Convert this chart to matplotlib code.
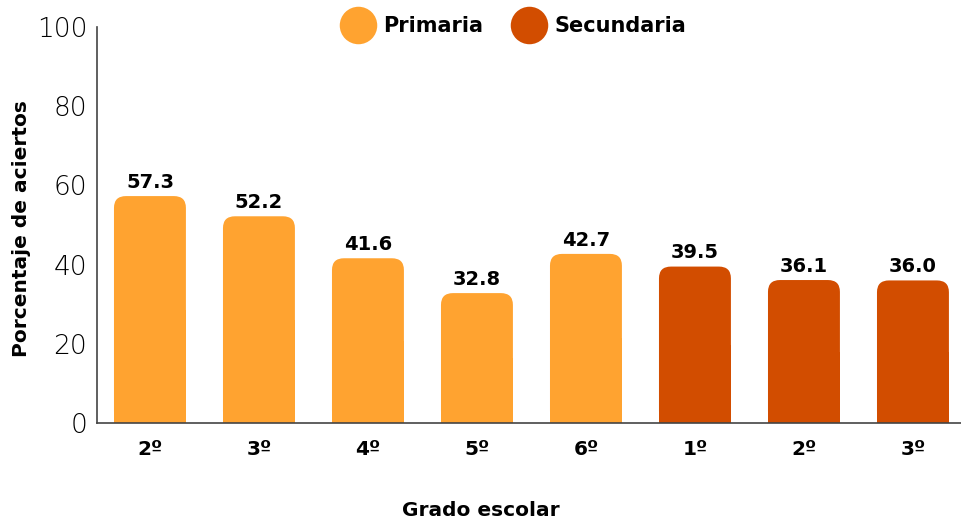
import matplotlib.pyplot as plt
from matplotlib.patches import FancyBboxPatch
from matplotlib.lines import Line2D

grades = ["2º", "3º", "4º", "5º", "6º", "1º", "2º", "3º"]
levels = ["Primaria"] * 5 + ["Secundaria"] * 3
scores = [57.3, 52.2, 41.6, 32.8, 42.7, 39.5, 36.1, 36.0]
level_colors = {"Primaria": "#FFA330", "Secundaria": "#D24D00"}

plt.rcParams["font.family"] = ["DejaVu Sans"]

fig = plt.figure(figsize=(9.62, 5.25), dpi=100)
ax = fig.add_axes([0.1008, 0.1943, 0.8992, 0.7543])

x = list(range(len(grades)))
colors = [level_colors[lv] for lv in levels]
bars = ax.bar(x, scores, width=0.66, color=colors, linewidth=0)

# rounded tops: rounded box over the bar, square lower half kept from the bar itself
r_x = 0.11
aspect = 27.0
for b, c in zip(bars, colors):
    h = b.get_height()
    top = FancyBboxPatch((b.get_x(), 0), b.get_width(), h,
                         boxstyle=f"round,pad=0,rounding_size={r_x}",
                         mutation_aspect=aspect, facecolor=c, edgecolor="none")
    ax.add_patch(top)
    b.set_height(h / 2)
    ax.annotate(f"{h:.1f}", (b.get_x() + b.get_width() / 2, h),
                xytext=(0, 3), textcoords="offset points",
                ha="center", va="bottom", fontsize=14, fontweight="bold")

ax.set_xlim(-0.486, 7.45)
ax.set_ylim(0, 100)
ax.set_yticks([0, 20, 40, 60, 80, 100])
ax.set_xticks(x)
ax.set_xticklabels(grades, fontsize=14.5, fontweight="bold")
ax.tick_params(axis="y", length=0, pad=7, labelsize=19)
ax.tick_params(axis="x", length=0, pad=12)
for t in ax.get_yticklabels():
    t.set_fontweight("light")

for s in ["top", "right"]:
    ax.spines[s].set_visible(False)
for s in ["left", "bottom"]:
    ax.spines[s].set_color("#444444")
    ax.spines[s].set_linewidth(1.2)

ax.set_ylabel("Porcentaje de aciertos", fontsize=14.5, fontweight="bold")
ax.yaxis.set_label_coords(-0.076, 0.49)
fig.text(0.5, 0.027, "Grado escolar", ha="center", va="center",
         fontsize=14.5, fontweight="bold")

handles = [Line2D([], [], marker="o", linestyle="none", markersize=27,
                  markerfacecolor=level_colors[k], markeredgecolor="none", label=k)
           for k in ["Primaria", "Secundaria"]]
fig.legend(handles=handles, loc="center", bbox_to_anchor=(0.534, 0.95), ncol=2,
           frameon=False, prop={"size": 15, "weight": "bold"},
           handletextpad=0.4, columnspacing=1.4, handlelength=1.6)

fig.savefig("out.png", dpi=100)
